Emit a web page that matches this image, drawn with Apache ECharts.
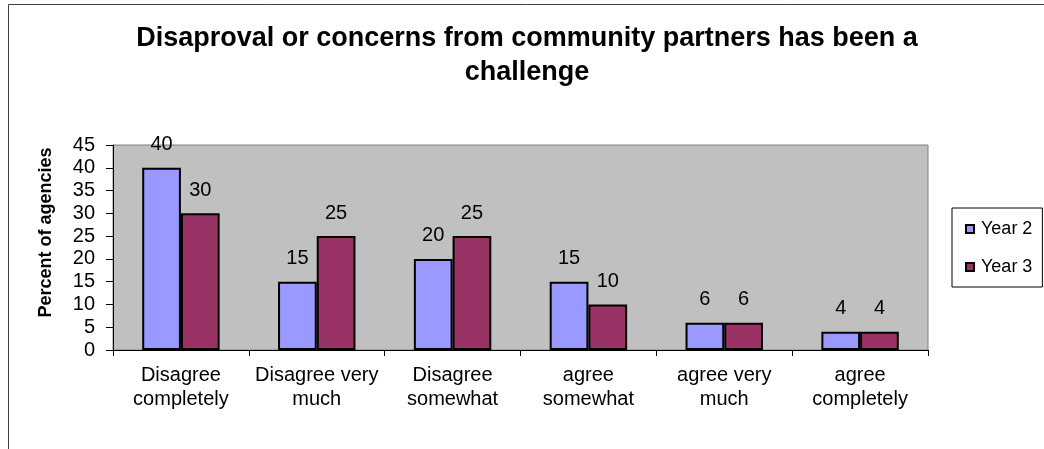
<!DOCTYPE html>
<html>
<head>
<meta charset="utf-8">
<script src="https://cdn.jsdelivr.net/npm/echarts@6/dist/echarts.min.js"></script>
<style>
  html, body { margin: 0; padding: 0; background: #fff; }
  #chart { width: 1044px; height: 449px; }
</style>
</head>
<body>
<div id="chart"></div>
<script>
// Survey responses: share of agencies per answer, two survey years
const categories = ['Disagree\ncompletely', 'Disagree very\nmuch', 'Disagree\nsomewhat', 'agree\nsomewhat', 'agree very\nmuch', 'agree\ncompletely'];
const year2 = [40, 15, 20, 15, 6, 4];
const year3 = [30, 25, 25, 10, 6, 4];
const seriesNames = ['Year 2', 'Year 3'];
const yTicks = { min: 0, max: 45, interval: 5 };

const FONT = '"Liberation Sans", Arial, sans-serif';

const chart = echarts.init(document.getElementById('chart'), null, { renderer: 'canvas' });

const barLabel = {
  show: true,
  position: 'top',
  distance: 13,
  color: '#000',
  fontFamily: FONT,
  fontSize: 20
};

chart.setOption({
  animation: false,
  backgroundColor: '#fff',
  title: {
    text: 'Disaproval or concerns from community partners has been a\nchallenge',
    left: 522,
    textAlign: 'center',
    top: 17,
    textStyle: {
      fontFamily: FONT,
      fontSize: 27,
      fontWeight: 'bold',
      color: '#000',
      lineHeight: 34
    }
  },
  graphic: [{
    type: 'rect',
    shape: { x: 8.5, y: 4.5, width: 1100, height: 500 },
    style: { fill: 'none', stroke: '#404040', lineWidth: 1 },
    silent: true,
    z: -1
  }],
  legend: {
    orient: 'vertical',
    left: 952,
    top: 208,
    padding: [12, 10, 11, 13],
    itemGap: 20,
    itemWidth: 8,
    itemHeight: 8,
    icon: 'rect',
    borderColor: '#000',
    borderWidth: 1,
    backgroundColor: '#fff',
    data: seriesNames,
    textStyle: {
      fontFamily: FONT,
      fontSize: 18,
      lineHeight: 18,
      color: '#000',
      padding: [0, 0, 0, 2]
    }
  },
  grid: {
    left: 113,
    top: 145,
    width: 815,
    height: 205,
    show: true,
    backgroundColor: '#C0C0C0',
    borderColor: '#808080',
    borderWidth: 1
  },
  xAxis: {
    type: 'category',
    data: categories,
    axisLine: { show: true, lineStyle: { color: '#000', width: 1 } },
    axisTick: { show: true, alignWithLabel: false, length: 6, lineStyle: { color: '#000' } },
    axisLabel: {
      color: '#000',
      fontFamily: FONT,
      fontSize: 20,
      lineHeight: 24,
      margin: 13,
      interval: 0
    },
    splitLine: { show: false }
  },
  yAxis: {
    type: 'value',
    min: yTicks.min,
    max: yTicks.max,
    interval: yTicks.interval,
    name: 'Percent of agencies',
    nameLocation: 'middle',
    nameGap: 58,
    nameTextStyle: {
      fontFamily: FONT,
      fontSize: 18,
      fontWeight: 'bold',
      color: '#000',
      padding: [0, 0, 0, 30]
    },
    axisLine: { show: true, lineStyle: { color: '#000', width: 1 } },
    axisTick: { show: true, length: 7, lineStyle: { color: '#000' } },
    axisLabel: {
      color: '#000',
      fontFamily: FONT,
      fontSize: 20,
      margin: 18
    },
    splitLine: { show: false }
  },
  series: [
    {
      name: seriesNames[0],
      type: 'bar',
      data: year2,
      barGap: '0%',
      barCategoryGap: '43%',
      itemStyle: { color: '#9999FF', borderColor: '#000', borderWidth: 2 },
      label: barLabel
    },
    {
      name: seriesNames[1],
      type: 'bar',
      data: year3,
      barGap: '0%',
      barCategoryGap: '43%',
      itemStyle: { color: '#993366', borderColor: '#000', borderWidth: 2 },
      label: barLabel
    }
  ]
});
</script>
</body>
</html>
